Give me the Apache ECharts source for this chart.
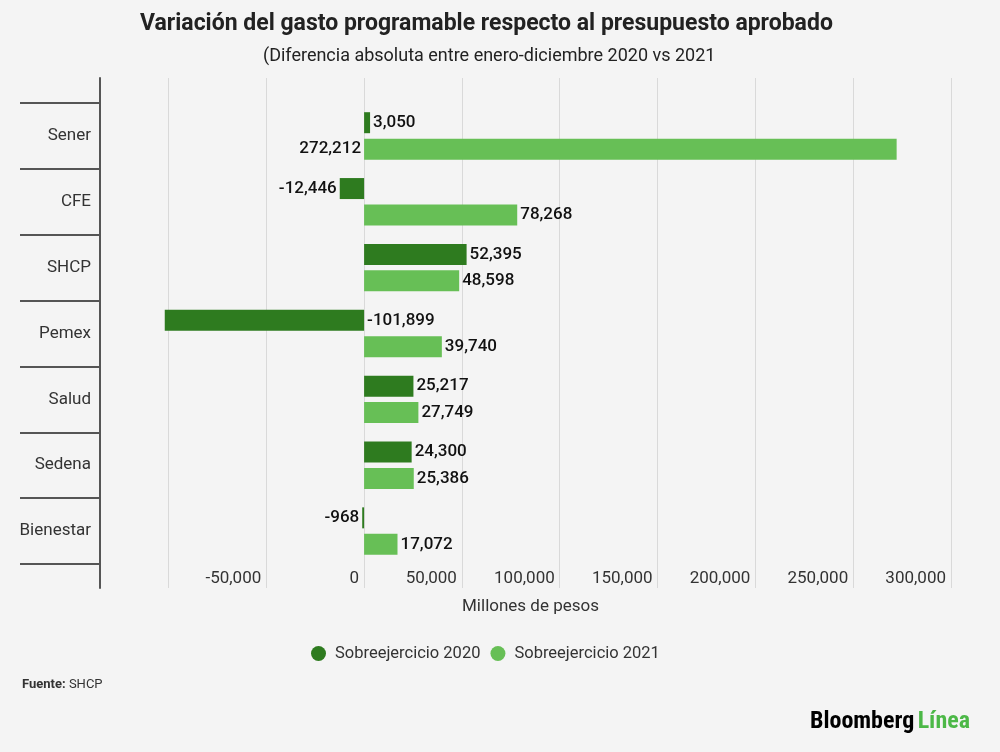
<!DOCTYPE html>
<html>
<head>
<meta charset="utf-8">
<script src="https://cdn.jsdelivr.net/npm/echarts@6/dist/echarts.min.js"></script>
<style>
html,body{margin:0;padding:0;background:#f4f4f4;}
#c{width:1000px;height:752px;}
</style>
</head>
<body>
<div id="c"></div>
<script>
const categories = ['Sener', 'CFE', 'SHCP', 'Pemex', 'Salud', 'Sedena', 'Bienestar'];
const values2020 = [3050, -12446, 52395, -101899, 25217, 24300, -968];
const values2021 = [272212, 78268, 48598, 39740, 27749, 25386, 17072];
const seriesNames = ['Sobreejercicio 2020', 'Sobreejercicio 2021'];
const xMin = -135000, xMax = 300000;

const DARK = '#2e7b1f', LIGHT = '#67bf56';
const fmt = v => v.toLocaleString('en-US');

const d2020 = values2020.map((v, i) => ({
  value: v,
  label: { position: (categories[i] === 'Pemex') ? 'right' : (v < 0 ? 'left' : 'right') }
}));
const d2021 = values2021.map((v, i) => ({
  value: v,
  label: { position: (i === 0) ? 'left' : 'right' }
}));

const chart = echarts.init(document.getElementById('c'));
const labelStyle = {
  show: true, distance: 3, color: '#111', fontSize: 17, fontWeight: 500, fontFamily: 'Roboto',
  formatter: p => fmt(p.value)
};
chart.setOption({
  backgroundColor: '#f4f4f4',
  textStyle: { fontFamily: 'Roboto' },
  animation: false,
  grid: [
    { left: 100, right: 49, top: 78, bottom: 164 },
    { left: 100, right: 49, top: 103, bottom: 188 }
  ],
  xAxis: [
    {
      gridIndex: 0, type: 'value', min: xMin, max: xMax, splitNumber: 9,
      axisLine: { show: false }, axisTick: { show: false }, axisLabel: { show: false },
      splitLine: { show: true, lineStyle: { color: '#d9d9d9', width: 1 } }
    },
    {
      gridIndex: 1, type: 'value', min: xMin, max: xMax, splitNumber: 9,
      axisLine: { show: false }, axisTick: { show: false },
      splitLine: { show: false },
      axisLabel: {
        show: true, showMinLabel: false, color: '#333', fontSize: 17, fontFamily: 'Roboto',
        align: 'right', margin: 6, padding: [0, 5, 0, 0],
        formatter: v => (v === -100000 || v === xMin) ? '' : fmt(v)
      },
      name: 'Millones de pesos', nameLocation: 'middle', nameGap: 34,
      nameTextStyle: { color: '#333', fontSize: 17, fontFamily: 'Roboto', padding: [0, 0, 0, 10] }
    }
  ],
  yAxis: [
    {
      gridIndex: 0, type: 'value', min: 0, max: 1,
      axisLine: { show: true, onZero: false, lineStyle: { color: '#555', width: 2 } },
      axisTick: { show: false }, axisLabel: { show: false }, splitLine: { show: false }
    },
    {
      gridIndex: 1, type: 'category', data: categories, inverse: true,
      axisLine: { show: false, onZero: false },
      axisTick: { show: true, inside: false, length: 80, lineStyle: { color: '#555', width: 2 } },
      axisLabel: { color: '#333', fontSize: 17, fontFamily: 'Roboto', margin: 9 },
      splitLine: { show: false }
    }
  ],
  legend: {
    data: seriesNames, bottom: 85, left: 306, itemWidth: 15, itemHeight: 15, itemGap: 10,
    icon: 'circle', textStyle: { color: '#333', fontSize: 16.5, fontFamily: 'Roboto', padding: [0, 0, 0, 4] }
  },
  series: [
    {
      name: seriesNames[0], type: 'bar', xAxisIndex: 1, yAxisIndex: 1,
      data: d2020, barWidth: 21, barGap: '26%',
      itemStyle: { color: DARK }, label: labelStyle
    },
    {
      name: seriesNames[1], type: 'bar', xAxisIndex: 1, yAxisIndex: 1,
      data: d2021, barWidth: 21, barGap: '26%',
      itemStyle: { color: LIGHT }, label: labelStyle
    }
  ],
  graphic: [
    { type: 'text', left: 140, top: 13, style: {
      text: 'Variación del gasto programable respecto al presupuesto aprobado',
      fill: '#222', font: 'bold 23px Roboto' } },
    { type: 'text', left: 263, top: 47, style: {
      text: '(Diferencia absoluta entre enero-diciembre 2020 vs 2021',
      fill: '#222', font: '18px Roboto' } },
    { type: 'text', left: 22, top: 678, style: {
      text: '{b|Fuente:} SHCP', fill: '#333', font: '13px Roboto',
      rich: { b: { fontWeight: 'bold', fontSize: 13, fontFamily: 'Roboto', fill: '#333' } } } },
    { type: 'text', right: 30, top: 710, style: {
      text: '{a|Bloomberg} {b|Línea}',
      rich: {
        a: { fontWeight: 'bold', fontSize: 24, fontFamily: 'Roboto Condensed, Roboto', fill: '#000' },
        b: { fontWeight: 'bold', fontSize: 24, fontFamily: 'Roboto Condensed, Roboto', fill: '#4cb847' }
      } } }
  ]
});
</script>
</body>
</html>
